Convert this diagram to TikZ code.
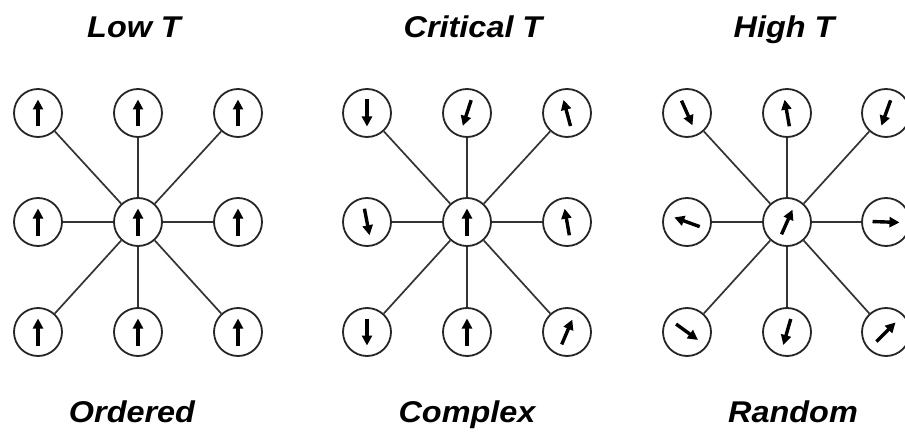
\documentclass[tikz,border=0pt]{standalone}
\usepackage{fontspec}
\newfontfamily\lblfont{Liberation Sans}[FakeStretch=1.08]
\usetikzlibrary{arrows.meta}
\tikzset{
  spinnode/.style={circle, draw=black!85, line width=1.8pt, minimum size=48pt, inner sep=0pt, fill=white},
  link/.style={draw=black!80, line width=1.7pt},
  spinarr/.style={line width=3.4pt, -{Triangle[length=10pt,width=10pt]}, black},
  lbl/.style={font=\lblfont\bfseries\itshape\fontsize{30}{32}\selectfont, anchor=base, inner sep=0pt}
}
\newcommand\spinarrow[2]{\draw[spinarr] ([shift={(#2+180:13.5pt)}]#1.center) -- ([shift={(#2:13.5pt)}]#1.center);}
\newcommand\mkpanel[4]{% #1 prefix, #2 left x, #3 mid x, #4 right x
  \node[spinnode] (#1tl) at (#2,319) {};
  \node[spinnode] (#1tm) at (#3,319) {};
  \node[spinnode] (#1tr) at (#4,319) {};
  \node[spinnode] (#1ml) at (#2,210) {};
  \node[spinnode] (#1c)  at (#3,210) {};
  \node[spinnode] (#1mr) at (#4,210) {};
  \node[spinnode] (#1bl) at (#2,100) {};
  \node[spinnode] (#1bm) at (#3,100) {};
  \node[spinnode] (#1br) at (#4,100) {};
  \foreach \n in {tl,tm,tr,ml,mr,bl,bm,br} \draw[link] (#1c) -- (#1\n);
}
\begin{document}
\begin{tikzpicture}[x=1pt,y=1pt]
\useasboundingbox (0,0) rectangle (905,432);
\fill[white] (0,0) rectangle (905,432);
\mkpanel{a}{38}{138}{238}
\mkpanel{b}{367}{467}{567}
\mkpanel{c}{687}{787}{886}
% Low T: all up
\foreach \n in {tl,tm,tr,ml,c,mr,bl,bm,br} {\spinarrow{a\n}{90}}
% Critical T
\spinarrow{btl}{270}
\spinarrow{btm}{252}
\spinarrow{btr}{105}
\spinarrow{bml}{281}
\spinarrow{bc}{90}
\spinarrow{bmr}{100}
\spinarrow{bbl}{270}
\spinarrow{bbm}{90}
\spinarrow{bbr}{67}
% High T
\spinarrow{ctl}{294}
\spinarrow{ctm}{100}
\spinarrow{ctr}{250}
\spinarrow{cml}{160}
\spinarrow{cc}{66}
\spinarrow{cmr}{-2}
\spinarrow{cbl}{324}
\spinarrow{cbm}{254}
\spinarrow{cbr}{45}
% labels
\node[lbl] (lowT) at (134,394) {Low T};
\node[lbl] (critT) at (473,394) {Critical T};
\node[lbl] (highT) at (784,394) {High T};
\node[lbl] (ordered) at (132,10) {Ordered};
\node[lbl] (complex) at (467,10) {Complex};
\node[lbl] (random) at (793,10) {Random};
\end{tikzpicture}
\end{document}
